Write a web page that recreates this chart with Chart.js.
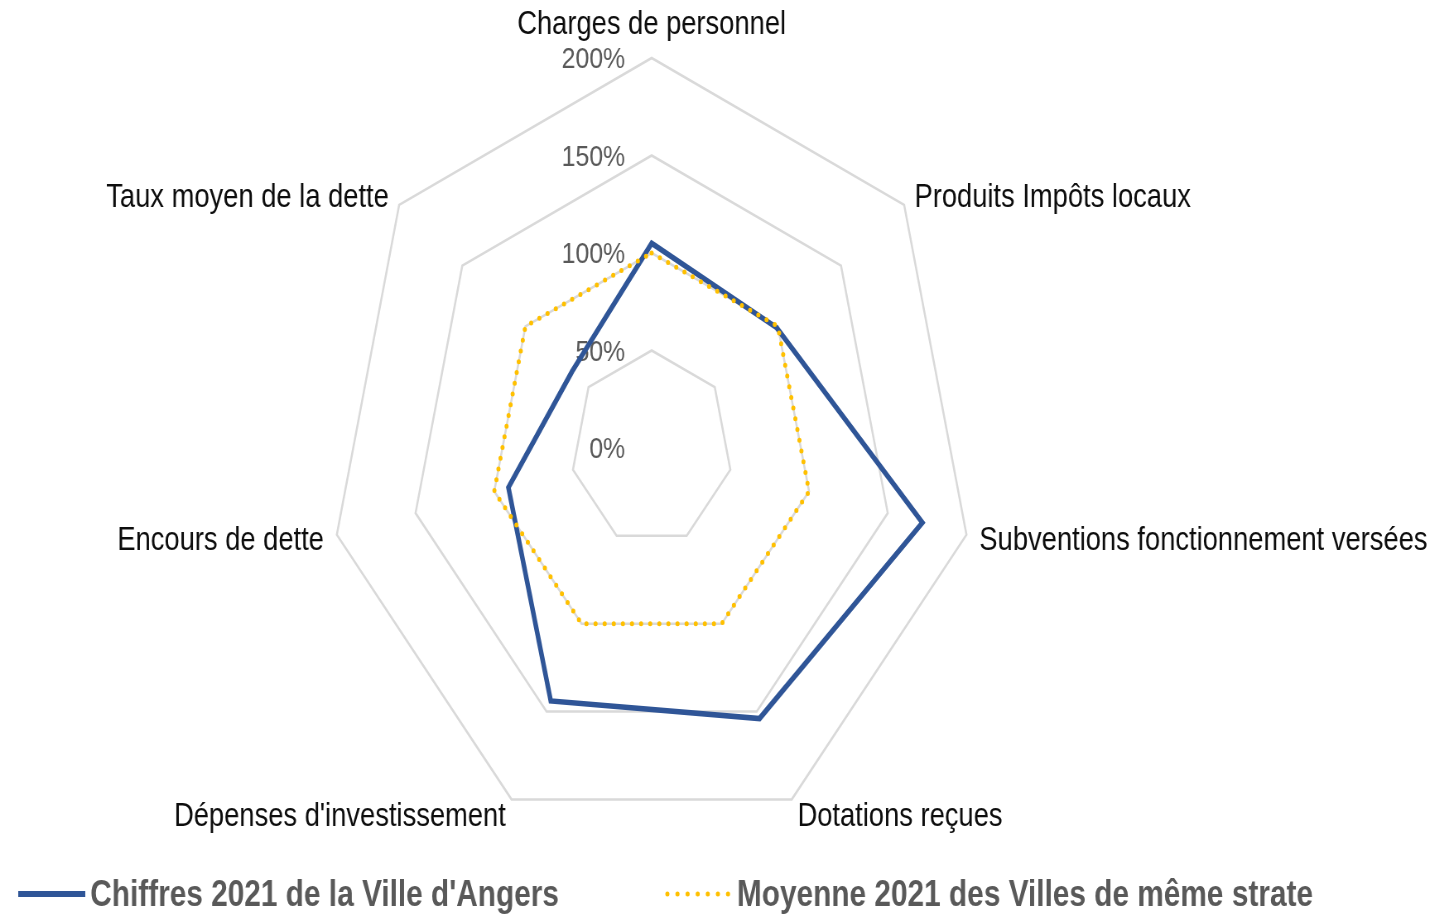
<!DOCTYPE html>
<html lang="fr">
<head>
<meta charset="utf-8">
<script src="https://cdn.jsdelivr.net/npm/chart.js@4.4.1/dist/chart.umd.min.js"></script>
<style>
    html, body { margin: 0; padding: 0; background: #fff; overflow: hidden; }
    /* the reference picture is squeezed horizontally, so the whole chart is */
    #wrap { position: absolute; left: 0; top: 0; width: 1739px; height: 914px; transform: scaleX(0.828); transform-origin: 0 0; }
</style>
</head>
<body>
<div id="wrap"><canvas id="radar-chart"></canvas></div>
<script>
'use strict';

const categories = [
    "Charges de personnel",
    "Produits Impôts locaux",
    "Subventions fonctionnement versées",
    "Dotations reçues",
    "Dépenses d'investissement",
    "Encours de dette",
    "Taux moyen de la dette",
];
const angersValues = [105, 99, 172, 154, 144, 91, 63];
const strateValues = [100, 100, 100, 100, 100, 100, 100];
const tickValues = [0, 50, 100, 150, 200];
const seriesNames = ["Chiffres 2021 de la Ville d'Angers", "Moyenne 2021 des Villes de même strate"];

const FONT = '"Liberation Sans", Arial, sans-serif';

const radarText = {
    id: 'radarText',
    beforeDatasetsDraw(chart) {
        const r = chart.scales.r;
        const ctx = chart.ctx;
        ctx.save();
        ctx.font = '30px ' + FONT;
        ctx.fillStyle = '#595959';
        ctx.textAlign = 'right';
        ctx.textBaseline = 'middle';
        tickValues.forEach(v => {
            ctx.fillText(v + '%', r.xCenter - 32, r.yCenter - r.getDistanceFromCenterForValue(v) + 2);
        });
        ctx.restore();
    },
    afterDraw(chart) {
        const r = chart.scales.r;
        const ctx = chart.ctx;
        ctx.save();
        // category labels around the web
        ctx.font = '33px ' + FONT;
        ctx.fillStyle = '#0d0d0d';
        ctx.textBaseline = 'middle';
        categories.forEach((label, i) => {
            const p = r.getPointPosition(i, r.drawingArea + 16);
            const dx = p.x - r.xCenter;
            const top = Math.abs(dx) < 1;
            ctx.textAlign = top ? 'center' : (dx > 0 ? 'left' : 'right');
            ctx.fillText(label, p.x, (top ? p.y - 20 : p.y) + 3);
        });

        // legend
        const legendY = 894;
        const items = [
            {x: 22, color: '#2F5597', width: 6, dash: [], cap: 'butt', from: 0, to: 81},
            {x: 803, color: '#FFC000', width: 5, dash: [0, 12.2], cap: 'round', from: 3, to: 77},
        ];
        items.forEach((it, i) => {
            ctx.beginPath();
            ctx.strokeStyle = it.color;
            ctx.lineWidth = it.width;
            ctx.lineCap = it.cap;
            ctx.setLineDash(it.dash);
            ctx.moveTo(it.x + it.from, legendY);
            ctx.lineTo(it.x + it.to, legendY);
            ctx.stroke();
            ctx.setLineDash([]);
            ctx.font = 'bold 36px ' + FONT;
            ctx.fillStyle = '#595959';
            ctx.textAlign = 'left';
            ctx.fillText(seriesNames[i], it.x + 87, legendY + 2);
        });
        ctx.restore();
    }
};

window.addEventListener('load', () => {
    const config = {
        type: 'radar',
        data: {
            labels: categories,
            datasets: [
                {
                    label: seriesNames[0],
                    data: angersValues,
                    borderColor: '#2F5597',
                    borderWidth: 5.5,
                    borderJoinStyle: 'miter',
                    pointRadius: 0,
                    fill: false,
                    order: 1,
                },
                {
                    label: seriesNames[1],
                    data: strateValues,
                    borderColor: '#FFC000',
                    borderWidth: 5,
                    borderDash: [0, 11],
                    borderCapStyle: 'round',
                    pointRadius: 0,
                    fill: false,
                    order: 0,
                },
            ],
        },
        options: {
            responsive: true,
            maintainAspectRatio: false,
            animation: false,
            layout: {padding: {top: 58, bottom: 76, left: 0, right: 165}},
            plugins: {
                legend: {display: false},
                tooltip: {enabled: false},
            },
            scales: {
                r: {
                    min: 0,
                    max: 200,
                    ticks: {display: false, stepSize: 50},
                    grid: {color: '#D9D9D9', lineWidth: 2.5},
                    angleLines: {display: false},
                    pointLabels: {display: false},
                },
            },
        },
        plugins: [radarText],
    };
    new Chart(document.getElementById('radar-chart'), config);
});
</script>
</body>
</html>
